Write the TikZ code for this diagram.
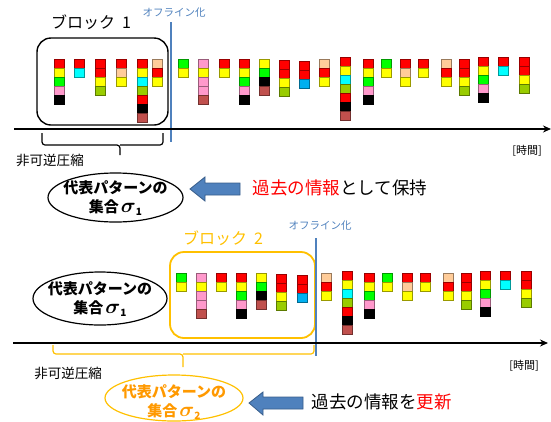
\documentclass[tikz,border=0pt]{standalone}
\usepackage{fontspec}
\setmainfont{Noto Sans CJK JP}
\usetikzlibrary{shapes.geometric,arrows.meta}
\definecolor{cR}{HTML}{FF0000}
\definecolor{cY}{HTML}{FFFF00}
\definecolor{cG}{HTML}{00FF00}
\definecolor{cP}{HTML}{FF99CC}
\definecolor{cK}{HTML}{000000}
\definecolor{cC}{HTML}{00FFFF}
\definecolor{cO}{HTML}{99CC00}
\definecolor{cE}{HTML}{FFCC99}
\definecolor{cB}{HTML}{C0504D}
\definecolor{cL}{HTML}{00B0F0}
\definecolor{offblue}{HTML}{4F81BD}
\definecolor{arrfill}{HTML}{4F81BD}
\definecolor{arrline}{HTML}{385D8A}
\definecolor{orngA}{HTML}{FFC000}
\definecolor{orngT}{HTML}{FF9900}
\newcommand\colstack[3]{%
  \foreach \cc [count=\ii from 0] in {#3}{%
    \draw[sqs, fill=\cc, draw=\cc!60!black] (#1,{#2+\ii*9}) rectangle ++(10.5,9);}}
\newcommand\sigmasub[1]{\hspace{2pt}{\fontsize{20}{20}\selectfont\boldmath$\sigma$}\raisebox{-3pt}{\fontsize{10}{10}\selectfont #1}}
\begin{document}
\begin{tikzpicture}[x=1pt,y=-1pt,
  sqs/.style={line width=0.7pt},
  axis/.style={line width=1.6pt, -{Stealth[length=8pt,width=7pt]}},
  offline/.style={offblue, line width=2.4pt},
  offtext/.style={offblue, font=\fontsize{10.5}{12}\selectfont},
  blocklbl/.style={font=\fontsize{16}{18}\selectfont},
  small/.style={font=\fontsize{13.5}{15}\selectfont},
  timetext/.style={font=\fontsize{11}{13}\selectfont},
  ell/.style={ellipse, draw, line width=1.2pt, inner sep=0pt},
  elltext/.style={align=center, font=\bfseries\fontsize{15}{19}\selectfont},
  barrow/.style={fill=arrfill, draw=arrline, line width=0.8pt},
  bigtext/.style={font=\fontsize{17.5}{20}\selectfont, anchor=west},
  bracket/.style={line width=1.2pt, rounded corners=3pt}
]
\useasboundingbox (0,0) rectangle (551,421);

% ===== top panel =====
\node[blocklbl] (b1lbl) at (91,22) {ブロック\hspace{7pt}1};
\node[draw, line width=1.4pt, rounded corners=14pt, minimum width=131pt, minimum height=87pt] (blk1) at (102.5,81.5) {};
\node[offtext] (off1) at (174,13) {オフライン化};
\coordinate (off1top) at (171,22);
\coordinate (off1bot) at (171,142);
\draw[offline] (off1top) -- (off1bot);

\colstack{54}{59}{cR,cY,cG,cP,cK}
\colstack{74}{59}{cR,cC}
\colstack{95}{59}{cR,cR,cY,cO}
\colstack{116}{59}{cR,cE,cY}
\colstack{137}{59}{cR,cY,cC,cO,cR,cK,cB}
\colstack{152}{59}{cE,cR,cY}
\colstack{178}{59}{cG,cY}
\colstack{198}{59}{cP,cY,cP,cP,cB}
\colstack{219}{59}{cR,cY}
\colstack{239}{59}{cR,cY,cG,cP,cK}
\colstack{259}{59}{cY,cG,cK,cB}
\colstack{279}{60}{cR,cR,cY,cO}
\colstack{299}{61}{cR,cR,cL}
\colstack{319}{59}{cE,cR,cY}
\colstack{340}{57.5}{cR,cY,cC,cO,cR,cK,cB}
\colstack{363}{59}{cR,cY,cG,cP,cK}
\colstack{381}{59}{cG,cY}
\colstack{400}{59}{cR,cE,cY}
\colstack{418}{59}{cR,cY}
\colstack{441}{59}{cE,cR,cY}
\colstack{459}{59}{cR,cR,cY,cO}
\colstack{478}{57}{cR,cY,cG,cP,cK}
\colstack{498}{57}{cR,cC}
\colstack{519}{57}{cR,cR,cY,cO}

\coordinate (ax1s) at (14,129);
\coordinate (ax1e) at (551,129);
\draw[axis] (ax1s) -- (ax1e);
\node[timetext] (time1) at (527,151) {[時間]};

\coordinate (br1l) at (42,133);
\coordinate (br1r) at (163,133);
\coordinate (br1m) at (120,155);
\draw[bracket] (br1l) -- (42,145) -- (120,145) -- (br1m);
\draw[bracket] (br1r) -- (163,145) -- (120,145);
\node[small] (comp1) at (50,160) {非可逆圧縮};

\node[ell, minimum width=135pt, minimum height=49pt] (e1) at (115.5,197.5) {};
\node[elltext] (e1t) at (115.5,198) {代表パターンの\\集合\sigmasub{1}};

\draw[barrow] (190,189) -- (205,177) -- (205,183) -- (240,183) -- (240,195) -- (205,195) -- (205,201) -- cycle;
\node[bigtext] (keep) at (249,188) {\textcolor{cR}{過去の情報}として保持};

% ===== bottom panel =====
\node[ell, minimum width=134pt, minimum height=53pt] (e2) at (100,298.5) {};
\node[elltext] (e2t) at (100,299) {代表パターンの\\集合\sigmasub{1}};

\node[blocklbl, orngA] (b2lbl) at (223,238) {ブロック\hspace{7pt}2};
\node[draw=orngA, line width=1.8pt, rounded corners=14pt, minimum width=145pt, minimum height=86pt] (blk2) at (242.5,295) {};
\node[offtext] (off2) at (320,226) {オフライン化};
\coordinate (off2top) at (316,238);
\coordinate (off2bot) at (316,356);
\draw[offline] (off2top) -- (off2bot);

\colstack{176}{273}{cG,cY}
\colstack{196}{273}{cP,cY,cP,cP,cB}
\colstack{216}{273}{cR,cY}
\colstack{236}{273}{cR,cY,cG,cP,cK}
\colstack{256}{273}{cY,cG,cK,cB}
\colstack{276}{274}{cR,cR,cY,cO}
\colstack{297}{275}{cR,cR,cL}
\colstack{321}{273}{cE,cR,cY}
\colstack{342}{271}{cR,cY,cC,cO,cR,cK,cB}
\colstack{364}{273}{cR,cY,cG,cP,cK}
\colstack{382}{273}{cG,cY}
\colstack{402}{273}{cR,cE,cY}
\colstack{420}{273}{cR,cY}
\colstack{443}{273}{cE,cR,cY}
\colstack{461}{273}{cR,cR,cY,cO}
\colstack{480}{271}{cR,cY,cG,cP,cK}
\colstack{500}{271}{cR,cC}
\colstack{521}{271}{cR,cR,cY,cO}

\coordinate (ax2s) at (13,343);
\coordinate (ax2e) at (548,343);
\draw[axis] (ax2s) -- (ax2e);
\node[timetext] (time2) at (524,366) {[時間]};

\coordinate (br2l) at (53,345);
\coordinate (br2r) at (314,345);
\coordinate (br2m) at (183,367);
\draw[bracket, orngA] (br2l) -- (53,354) -- (183,354) -- (br2m);
\draw[bracket, orngA] (br2r) -- (314,354) -- (183,354);
\node[small] (comp2) at (68,373) {非可逆圧縮};

\node[ell, draw=orngA, minimum width=138pt, minimum height=46pt] (e3) at (174,398) {};
\node[elltext, orngT] (e3t) at (174,402) {代表パターンの\\集合\sigmasub{2}};

\draw[barrow] (249,403) -- (263,392) -- (263,397) -- (303,397) -- (303,409) -- (263,409) -- (263,415) -- cycle;
\node[bigtext] (update) at (308,402) {過去の情報を\textcolor{cR}{更新}};
\end{tikzpicture}
\end{document}
